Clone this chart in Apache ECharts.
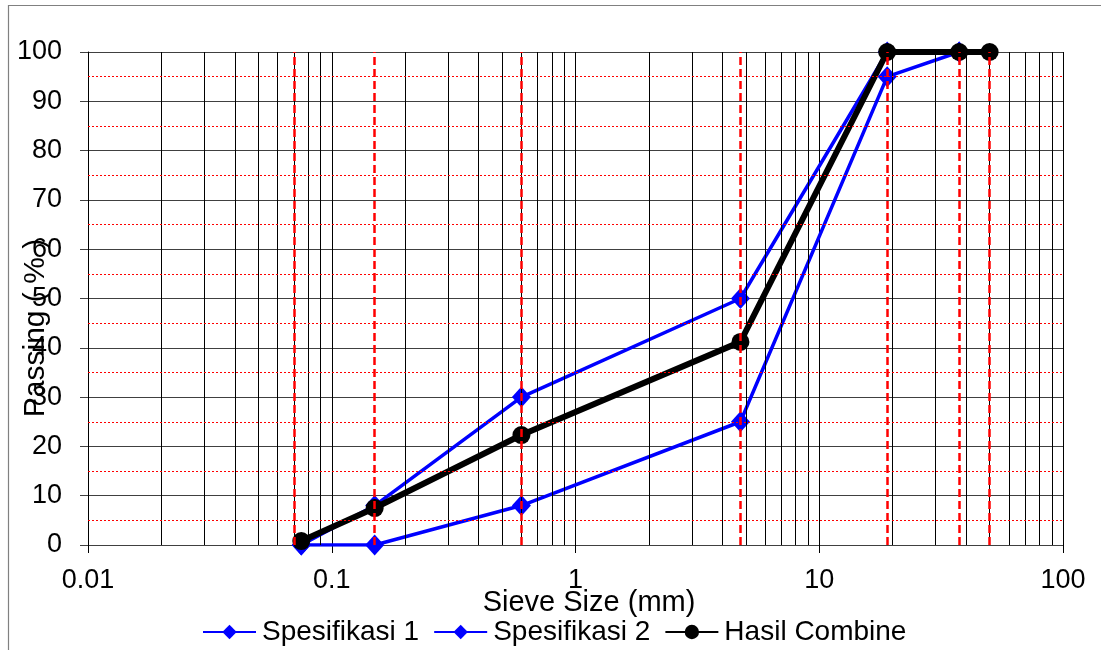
<!DOCTYPE html>
<html>
<head>
<meta charset="utf-8">
<script src="https://cdn.jsdelivr.net/npm/echarts@6/dist/echarts.min.js"></script>
<style>
  html, body { margin: 0; padding: 0; background: #fff; }
  #chart { width: 1101px; height: 650px; }
</style>
</head>
<body>
<div id="chart"></div>
<script>
// Sieve openings (mm) and percentage passing
const sieveSizes = [0.075, 0.15, 0.6, 4.75, 19, 37.5, 50];
const spesifikasi1 = [0, 0, 8, 25, 95, 100, null];
const spesifikasi2 = [0, 8, 30, 50, 100, 100, null];
const hasilCombine = [0.8, 7.5, 22.3, 41.2, 100, 100, 100];

// Axis ranges and grid helpers
const xTickLabels = ['0.01', '0.1', '1', '10', '100'];
const minorSizes = [0.02, 0.03, 0.04, 0.05, 0.06, 0.07, 0.08, 0.09,
                    0.2, 0.3, 0.4, 0.5, 0.6, 0.7, 0.8, 0.9,
                    2, 3, 4, 5, 6, 7, 8, 9,
                    20, 30, 40, 50, 60, 70, 80, 90];
const halfSteps = [5, 15, 25, 35, 45, 55, 65, 75, 85, 95];

const FONT = '"Liberation Sans", Arial, sans-serif';

const pairs = (ys) => sieveSizes.map((x, i) => [x, ys[i]]).filter(p => p[1] !== null);

const chart = echarts.init(document.getElementById('chart'), null, { renderer: 'canvas' });

chart.setOption({
  animation: false,
  backgroundColor: '#fff',
  textStyle: { fontFamily: FONT },
  graphic: [
    {
      type: 'rect',
      shape: { x: 8.5, y: 5.5, width: 1300, height: 900 },
      style: { fill: 'none', stroke: '#808080', lineWidth: 1.2 },
      silent: true,
      z: 0
    },
    {
      // vertical axis title
      type: 'text',
      x: 36,
      y: 328,
      rotation: Math.PI / 2,
      style: {
        text: 'Passing ( % )',
        font: '30px "Liberation Sans", Arial, sans-serif',
        fill: '#000',
        align: 'center',
        verticalAlign: 'middle'
      },
      silent: true,
      z: 100
    }
  ],
  grid: { left: 88, right: 38, top: 52, bottom: 105, containLabel: false, outerBoundsMode: 'none' },
  legend: {
    left: 202,
    top: 618,
    itemWidth: 53,
    itemHeight: 18,
    itemGap: 14,
    padding: 0,
    textStyle: { fontFamily: FONT, fontSize: 28, color: '#000', padding: [0, 0, 0, 1] },
    data: ['Spesifikasi 1', 'Spesifikasi 2', 'Hasil Combine']
  },
  xAxis: {
    type: 'log',
    logBase: 10,
    min: 0.01,
    max: 100,
    name: 'Sieve Size (mm)',
    nameLocation: 'middle',
    nameGap: 43,
    nameMoveOverlap: false,
    nameTextStyle: { fontFamily: FONT, fontSize: 29, color: '#000', padding: [0, 0, 0, 27] },
    axisLine: { show: true, onZero: false, lineStyle: { color: '#404040', width: 1 } },
    axisTick: { show: true, inside: false, length: 8, lineStyle: { color: '#000', width: 1 } },
    axisLabel: {
      fontFamily: FONT, fontSize: 27, color: '#000', margin: 22,
      formatter: (v) => {
        const k = Math.round(Math.log10(v)) + 2;
        return xTickLabels[k] !== undefined ? xTickLabels[k] : '';
      }
    },
    splitLine: { show: true, lineStyle: { color: '#000', width: 1 } }
  },
  yAxis: {
    type: 'value',
    min: 0,
    max: 100,
    interval: 10,
    axisLine: { show: true, lineStyle: { color: '#000', width: 1 } },
    axisTick: { show: true, inside: false, length: 8, lineStyle: { color: '#404040', width: 1 } },
    axisLabel: { fontFamily: FONT, fontSize: 27, color: '#000', margin: 26 },
    splitLine: { show: true, lineStyle: { color: '#404040', width: 1 } }
  },
  series: [
    {
      // background guides: minor log lines, half-step lines, sieve markers
      type: 'line',
      name: 'guides',
      data: [],
      silent: true,
      z: 1,
      markLine: {
        silent: true,
        symbol: ['none', 'none'],
        label: { show: false },
        animation: false,
        data: [
          ...minorSizes.map(v => ({ xAxis: v, lineStyle: { color: '#000', width: 1, type: 'solid' } })),
          ...halfSteps.map(v => ({ yAxis: v, lineStyle: { color: '#ff0000', width: 1, type: [2, 2] } })),
          ...sieveSizes.map(v => ({ xAxis: v, lineStyle: { color: '#ff0000', width: 2.5, type: [8, 4] } }))
        ]
      }
    },
    {
      name: 'Spesifikasi 1',
      type: 'line',
      z: 3,
      data: pairs(spesifikasi1),
      symbol: 'diamond',
      symbolSize: [19, 21],
      lineStyle: { color: '#0000ff', width: 3.5 },
      itemStyle: { color: '#0000ff' }
    },
    {
      name: 'Spesifikasi 2',
      type: 'line',
      z: 3,
      data: pairs(spesifikasi2),
      symbol: 'diamond',
      symbolSize: [19, 21],
      lineStyle: { color: '#0000ff', width: 3.5 },
      itemStyle: { color: '#0000ff' }
    },
    {
      name: 'Hasil Combine',
      type: 'line',
      z: 4,
      data: pairs(hasilCombine),
      symbol: 'circle',
      symbolSize: 18,
      lineStyle: { color: '#000', width: 6 },
      itemStyle: { color: '#000' }
    }
  ]
});
</script>
</body>
</html>
